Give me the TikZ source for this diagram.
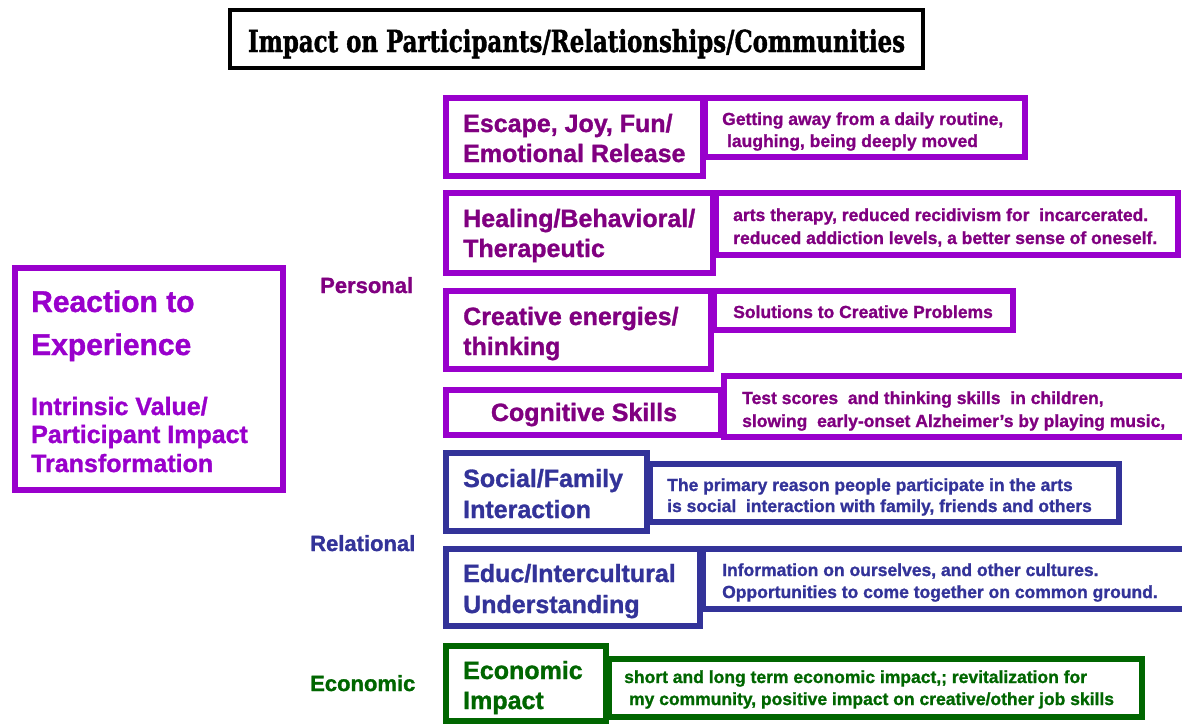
\documentclass[tikz,border=0pt]{standalone}
\usepackage{fontspec}
\setmainfont{Liberation Sans}[BoldFeatures={FakeBold=1.2}]
\newfontfamily\titlefont{DejaVu Serif}[BoldFeatures={FakeBold=1.5}]
\definecolor{vio}{HTML}{9900CC}
\definecolor{dpur}{HTML}{800080}
\definecolor{navy}{HTML}{333399}
\definecolor{dgreen}{HTML}{006600}
\tikzset{
  boxline/.style={line width=5.5pt},
  huge/.style={font=\bfseries\fontsize{30}{34}\selectfont, anchor=base west, inner sep=0pt},
  big/.style={font=\bfseries\fontsize{25}{30}\selectfont, anchor=base west, inner sep=0pt},
  small/.style={font=\bfseries\fontsize{17.5}{20}\selectfont, anchor=base west, inner sep=0pt},
  cat/.style={font=\bfseries\fontsize{22}{26}\selectfont, anchor=base west, inner sep=0pt}
}
\begin{document}
\begin{tikzpicture}[x=1pt,y=-1pt]
\useasboundingbox (0,0) rectangle (1182,726);
\clip (0,0) rectangle (1182,726);
\fill[white] (0,0) rectangle (1182,726);

% title
\draw[line width=4pt] (230,10) rectangle (923,68);
\node[anchor=base, inner sep=0pt] (title) at (576.5,52)
  {\resizebox{657pt}{23pt}{\titlefont\bfseries Impact on Participants/Relationships/Communities}};

% left big box
\draw[boxline, vio] (15,268) rectangle (283,490);
\node[huge, vio] (r1) at (31,312) {Reaction to};
\node[huge, vio] (r2) at (31,355) {Experience};
\node[big, vio] (r3) at (31,415) {Intrinsic Value/};
\node[big, vio] (r4) at (31,443) {Participant Impact};
\node[big, vio] (r5) at (31,472) {Transformation};

% category labels
\node[cat, dpur] (personal) at (320,293) {Personal};
\node[cat, navy] (relational) at (310,551) {Relational};
\node[cat, dgreen] (economic) at (310,691) {Economic};

% ---- Personal (purple)
\draw[boxline, vio] (446,98) rectangle (703,176);
\draw[boxline, vio] (705,98) rectangle (1025,157);
\node[big, dpur] (e1) at (463,132) {Escape, Joy, Fun/};
\node[big, dpur] (e2) at (463,162) {Emotional Release};
\node[small, dpur] (e3) at (722,125) {Getting away from a daily routine,};
\node[small, dpur] (e4) at (722,147) {\ laughing, being deeply moved};

\draw[boxline, vio] (446,193) rectangle (713,273);
\draw[boxline, vio] (716,193) rectangle (1178,255);
\node[big, dpur] (h1) at (463,227) {Healing/Behavioral/};
\node[big, dpur] (h2) at (463,257) {Therapeutic};
\node[small, dpur] (h3) at (733,221) {arts therapy, reduced recidivism for\ \ incarcerated.};
\node[small, dpur] (h4) at (733,244) {reduced addiction levels, a better sense of oneself.};

\draw[boxline, vio] (446,291) rectangle (711,369);
\draw[boxline, vio] (714,291) rectangle (1013,330);
\node[big, dpur] (c1) at (463,325) {Creative energies/};
\node[big, dpur] (c2) at (463,355) {thinking};
\node[small, dpur] (c3) at (733,318) {Solutions to Creative Problems};

\draw[boxline, vio] (446,390) rectangle (721,435);
\draw[boxline, vio] (724,376) rectangle (1200,437);
\node[big, dpur, anchor=base] (g1) at (584,421) {Cognitive Skills};
\node[small, dpur] (g2) at (742,404) {Test scores\ \ and thinking skills\ \ in children,};
\node[small, dpur] (g3) at (742,427) {slowing\ \ early-onset Alzheimer's by playing music,};

% ---- Relational (navy)
\draw[boxline, navy] (446,453) rectangle (647,531);
\draw[boxline, navy] (650,464) rectangle (1119,522);
\node[big, navy] (s1) at (463,487) {Social/Family};
\node[big, navy] (s2) at (463,518) {Interaction};
\node[small, navy] (s3) at (667,491) {The primary reason people participate in the arts};
\node[small, navy] (s4) at (667,512) {is social\ \ interaction with family, friends and others};

\draw[boxline, navy] (446,549) rectangle (700,626);
\draw[boxline, navy] (703,549) rectangle (1200,609);
\node[big, navy] (u1) at (463,582) {Educ/Intercultural};
\node[big, navy] (u2) at (463,613) {Understanding};
\node[small, navy] (u3) at (722,576) {Information on ourselves, and other cultures.};
\node[small, navy] (u4) at (722,598) {Opportunities to come together on common ground.};

% ---- Economic (green)
\draw[boxline, dgreen] (446,646) rectangle (606,721);
\draw[boxline, dgreen] (609,659) rectangle (1142,717);
\node[big, dgreen] (k1) at (463,679) {Economic};
\node[big, dgreen] (k2) at (463,709) {Impact};
\node[small, dgreen] (k3) at (624,683) {short and long term economic impact,; revitalization for};
\node[small, dgreen] (k4) at (624,705) {\ my community, positive impact on creative/other job skills};
\end{tikzpicture}
\end{document}
